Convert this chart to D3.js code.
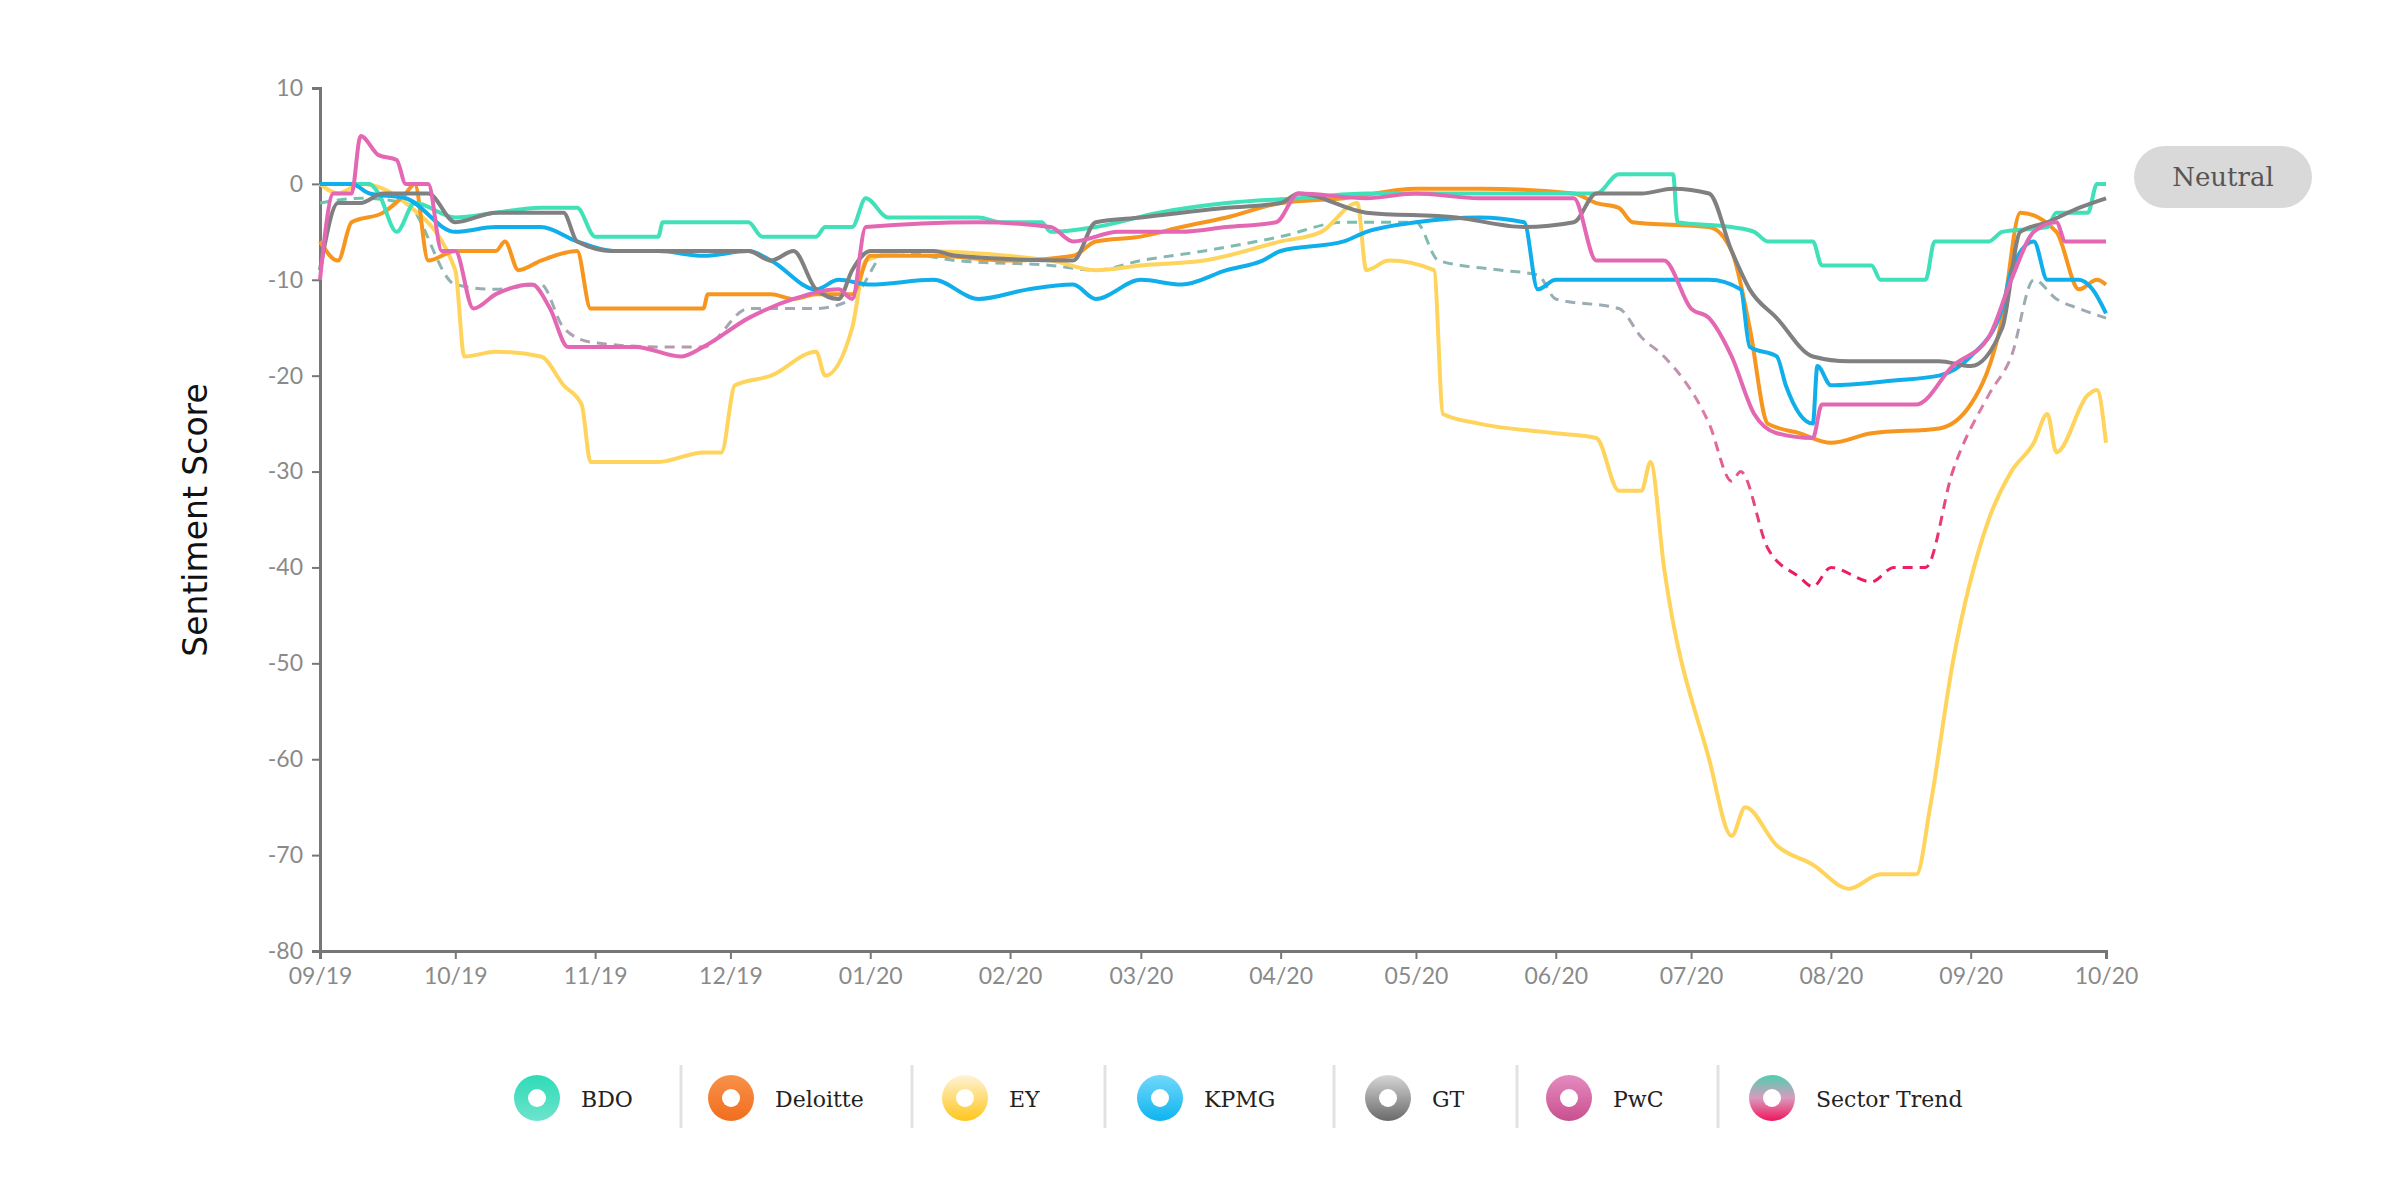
<!DOCTYPE html>
<html><head><meta charset="utf-8">
<script src="https://cdn.jsdelivr.net/npm/d3@7"></script>
<style>body{margin:0;background:#fff}svg{display:block}</style>
</head><body>
<script>
const months=["09/19","10/19","11/19","12/19","01/20","02/20","03/20","04/20","05/20","06/20","07/20","08/20","09/20","10/20"];
const yTicks=[10,0,-10,-20,-30,-40,-50,-60,-70,-80];
const seriesNames=["BDO","Deloitte","EY","KPMG","GT","PwC","Sector Trend"];
const bdo=[["2019-09-01",0],["2019-09-12",0],["2019-09-14",-1],["2019-09-18",-5],["2019-09-22",-2],["2019-10-01",-3.5],["2019-10-10",-3],["2019-10-20",-2.5],["2019-10-28",-2.5],["2019-11-01",-5.5],["2019-11-15",-5.5],["2019-11-16",-4],["2019-12-05",-4],["2019-12-08",-5.5],["2019-12-20",-5.5],["2019-12-22",-4.5],["2019-12-28",-4.5],["2019-12-31",-1.5],["2020-01-05",-3.5],["2020-01-25",-3.5],["2020-01-30",-4],["2020-02-08",-4],["2020-02-10",-5],["2020-02-20",-4.5],["2020-03-05",-3],["2020-03-20",-2],["2020-04-05",-1.5],["2020-04-20",-1],["2020-05-20",-1],["2020-06-10",-1],["2020-06-15",1],["2020-06-27",1],["2020-06-28",-4],["2020-07-10",-4.5],["2020-07-15",-5],["2020-07-18",-6],["2020-07-28",-6],["2020-07-30",-8.5],["2020-08-10",-8.5],["2020-08-12",-10],["2020-08-22",-10],["2020-08-24",-6],["2020-09-05",-6],["2020-09-08",-5],["2020-09-18",-4.5],["2020-09-20",-3],["2020-09-27",-3],["2020-09-29",0],["2020-10-01",0]];
const deloitte=[["2019-09-01",-6],["2019-09-05",-8],["2019-09-08",-4],["2019-09-15",-3],["2019-09-20",-1],["2019-09-22",0],["2019-09-25",-8],["2019-10-01",-7],["2019-10-10",-7],["2019-10-12",-6],["2019-10-15",-9],["2019-10-20",-8],["2019-10-28",-7],["2019-10-31",-13],["2019-11-10",-13],["2019-11-25",-13],["2019-11-26",-11.5],["2019-12-10",-11.5],["2019-12-15",-12],["2019-12-20",-11.5],["2019-12-28",-11.5],["2020-01-01",-7.5],["2020-01-15",-7.5],["2020-02-01",-8],["2020-02-15",-7.5],["2020-02-20",-6],["2020-03-01",-5.5],["2020-03-10",-4.5],["2020-03-20",-3.5],["2020-04-01",-2],["2020-04-15",-1.5],["2020-05-01",-0.5],["2020-05-15",-0.5],["2020-06-05",-1],["2020-06-10",-2],["2020-06-15",-2.5],["2020-06-18",-4],["2020-07-05",-4.5],["2020-07-10",-7],["2020-07-14",-15],["2020-07-18",-25],["2020-07-25",-26],["2020-08-01",-27],["2020-08-10",-26],["2020-08-25",-25.5],["2020-09-01",-23],["2020-09-08",-14],["2020-09-12",-3],["2020-09-20",-5],["2020-09-25",-11],["2020-09-29",-10],["2020-10-01",-10.5]];
const ey=[["2019-09-01",0],["2019-09-05",-1],["2019-09-10",0],["2019-09-20",-2],["2019-10-01",-9],["2019-10-03",-18],["2019-10-10",-17.5],["2019-10-20",-18],["2019-10-25",-21],["2019-10-29",-23],["2019-10-31",-29],["2019-11-15",-29],["2019-11-25",-28],["2019-11-29",-28],["2019-12-02",-21],["2019-12-10",-20],["2019-12-20",-17.5],["2019-12-22",-20],["2019-12-28",-15],["2019-12-31",-8],["2020-01-10",-7],["2020-02-10",-8],["2020-02-20",-9],["2020-03-01",-8.5],["2020-03-15",-8],["2020-04-01",-6],["2020-04-10",-5],["2020-04-18",-2],["2020-04-20",-9],["2020-04-25",-8],["2020-05-05",-9],["2020-05-07",-24],["2020-05-15",-25],["2020-06-01",-26],["2020-06-10",-26.5],["2020-06-15",-32],["2020-06-20",-32],["2020-06-22",-29],["2020-06-25",-40],["2020-07-05",-60],["2020-07-10",-68],["2020-07-13",-65],["2020-07-20",-69],["2020-07-28",-71],["2020-08-05",-73.5],["2020-08-12",-72],["2020-08-20",-72],["2020-08-23",-65],["2020-08-28",-50],["2020-09-05",-35],["2020-09-10",-30],["2020-09-15",-27],["2020-09-18",-24],["2020-09-20",-28],["2020-09-27",-22],["2020-09-29",-21.5],["2020-10-01",-27]];
const kpmg=[["2019-09-01",0],["2019-09-08",0],["2019-09-12",-1],["2019-09-20",-1.5],["2019-10-01",-5],["2019-10-10",-4.5],["2019-10-20",-4.5],["2019-10-28",-6],["2019-11-05",-7],["2019-11-15",-7],["2019-11-25",-7.5],["2019-12-05",-7],["2019-12-10",-8],["2019-12-20",-11],["2019-12-25",-10],["2020-01-01",-10.5],["2020-01-15",-10],["2020-01-25",-12],["2020-02-05",-11],["2020-02-15",-10.5],["2020-02-20",-12],["2020-03-01",-10],["2020-03-10",-10.5],["2020-03-20",-9],["2020-03-28",-8],["2020-04-01",-7],["2020-04-15",-6],["2020-04-20",-5],["2020-05-01",-4],["2020-05-15",-3.5],["2020-05-25",-4],["2020-05-28",-11],["2020-06-01",-10],["2020-07-05",-10],["2020-07-12",-11],["2020-07-14",-17],["2020-07-20",-18],["2020-07-22",-21],["2020-07-28",-25],["2020-07-29",-19],["2020-08-01",-21],["2020-08-15",-20.5],["2020-08-25",-20],["2020-09-01",-18],["2020-09-08",-13],["2020-09-10",-9],["2020-09-15",-6],["2020-09-18",-10],["2020-09-25",-10],["2020-09-28",-11],["2020-10-01",-13.5]];
const gt=[["2019-09-01",-9],["2019-09-05",-2],["2019-09-10",-2],["2019-09-15",-1],["2019-09-25",-1],["2019-10-01",-4],["2019-10-10",-3],["2019-10-25",-3],["2019-10-28",-6],["2019-11-05",-7],["2019-12-05",-7],["2019-12-10",-8],["2019-12-15",-7],["2019-12-20",-11],["2019-12-25",-12],["2019-12-28",-9],["2020-01-01",-7],["2020-01-15",-7],["2020-01-20",-7.5],["2020-02-15",-8],["2020-02-20",-4],["2020-03-01",-3.5],["2020-03-20",-2.5],["2020-04-01",-2],["2020-04-05",-1],["2020-04-20",-3],["2020-05-10",-3.5],["2020-05-25",-4.5],["2020-06-05",-4],["2020-06-10",-1],["2020-06-20",-1],["2020-06-27",-0.5],["2020-07-05",-1],["2020-07-10",-7],["2020-07-14",-11],["2020-07-20",-14],["2020-07-28",-18],["2020-08-05",-18.5],["2020-08-25",-18.5],["2020-09-01",-19],["2020-09-08",-15],["2020-09-12",-5],["2020-09-18",-4],["2020-09-25",-2.5],["2020-10-01",-1.5]];
const pwc=[["2019-09-01",-10],["2019-09-04",-1],["2019-09-08",-1],["2019-09-10",5],["2019-09-14",3],["2019-09-18",2.5],["2019-09-20",0],["2019-09-25",0],["2019-09-28",-7],["2019-10-01",-7],["2019-10-05",-13],["2019-10-10",-11.5],["2019-10-18",-10.5],["2019-10-22",-13],["2019-10-26",-17],["2019-11-10",-17],["2019-11-20",-18],["2019-11-25",-17],["2019-12-05",-14],["2019-12-15",-12],["2019-12-25",-11],["2019-12-28",-12],["2019-12-31",-4.5],["2020-01-25",-4],["2020-02-10",-4.5],["2020-02-15",-6],["2020-02-25",-5],["2020-03-10",-5],["2020-03-20",-4.5],["2020-03-31",-4],["2020-04-05",-1],["2020-04-20",-1.5],["2020-05-01",-1],["2020-05-15",-1.5],["2020-06-05",-1.5],["2020-06-10",-8],["2020-06-25",-8],["2020-07-01",-13],["2020-07-05",-14],["2020-07-10",-18],["2020-07-15",-24],["2020-07-20",-26],["2020-07-28",-26.5],["2020-07-30",-23],["2020-08-20",-23],["2020-08-28",-19],["2020-09-05",-16],["2020-09-10",-10],["2020-09-15",-5],["2020-09-20",-4],["2020-09-22",-6],["2020-10-01",-6]];
const sector=[["2019-09-01",-2],["2019-09-10",-1.5],["2019-09-20",-2],["2019-10-01",-10.5],["2019-10-10",-11],["2019-10-20",-10.5],["2019-10-25",-15],["2019-10-31",-16.5],["2019-11-15",-17],["2019-11-25",-17],["2019-12-05",-13],["2019-12-20",-13],["2019-12-28",-12],["2020-01-05",-7],["2020-01-20",-8],["2020-02-10",-8.5],["2020-02-20",-9],["2020-03-01",-8],["2020-03-15",-7],["2020-04-01",-5.5],["2020-04-15",-4],["2020-05-01",-4],["2020-05-06",-8],["2020-05-20",-9],["2020-05-28",-9.5],["2020-06-01",-12],["2020-06-15",-13],["2020-06-20",-16],["2020-06-25",-18],["2020-07-05",-25],["2020-07-10",-31],["2020-07-12",-30],["2020-07-18",-38],["2020-07-25",-41],["2020-07-28",-42],["2020-08-01",-40],["2020-08-10",-41.5],["2020-08-15",-40],["2020-08-22",-40],["2020-08-28",-30],["2020-09-05",-22],["2020-09-10",-18],["2020-09-15",-10],["2020-09-20",-12],["2020-09-25",-13],["2020-10-01",-14]];

const W=2400,H=1200,L=320,R=2106,T=88,B=951;
const parse=d3.timeParse("%Y-%m-%d");
const svg=d3.select("body").append("svg").attr("width",W).attr("height",H);
const x=d3.scaleTime().domain([parse("2019-09-01"),parse("2020-10-01")]).range([L,R]);
const y=d3.scaleLinear().domain([-80,10]).range([B,T]);
const defs=svg.append("defs");
function grad(id,stops,vert=true,user=false){const g=defs.append("linearGradient").attr("id",id).attr("x1",0).attr("y1",0).attr("x2",vert?0:1).attr("y2",vert?1:0);
 if(user){g.attr("gradientUnits","userSpaceOnUse").attr("x1",0).attr("x2",0);}
 stops.forEach(s=>g.append("stop").attr("offset",s[0]).attr("stop-color",s[1]));return g;}
const sg=grad("sectorGrad",[],true,true).attr("y1",y(-2)).attr("y2",y(-42));
[[0,"#6cc4b0"],[0.3,"#a3a8b4"],[0.55,"#e07aa6"],[1,"#ee1460"]].forEach(s=>sg.append("stop").attr("offset",s[0]).attr("stop-color",s[1]));
grad("neutralGrad",[[0,"#f0f0f0"],[1,"#9a9a9a"]],false);
const legendGrads=[["#2edbb8","#6de3cc"],["#f7924a","#f26d1d"],["#fff3d6","#ffc61a"],["#72d8fa","#0eb4f0"],["#d6d6d6","#6a6a6a"],["#e38cc0","#c94f8f"],["#4ecfb0","#d99abd","#f0145c"]];
legendGrads.forEach((c,i)=>{grad("lg"+i,c.map((col,j)=>[j/(c.length-1),col]));});

svg.append("line").attr("x1",L).attr("x2",2134).attr("y1",y(0)-3).attr("y2",y(0)-3).attr("stroke","url(#neutralGrad)").attr("stroke-width",3).attr("stroke-dasharray","12,8");
svg.append("rect").attr("x",2134).attr("y",146).attr("width",178).attr("height",62).attr("rx",31).attr("fill","#d9d9d9");
svg.append("text").attr("x",2223).attr("y",186).attr("text-anchor","middle").attr("font-family","DejaVu Serif").attr("font-size",26).attr("fill","#555").text("Neutral");

const fmt=d=>String(d);
const ya=svg.append("g").attr("transform",`translate(${L},0)`).call(d3.axisLeft(y).tickValues(yTicks).tickSize(8).tickFormat(fmt));
const xa=svg.append("g").attr("transform",`translate(0,${B})`).call(d3.axisBottom(x).tickValues(months.map(m=>d3.timeParse("%m/%y")(m))).tickSize(8).tickFormat((d,i)=>months[i]));
[ya,xa].forEach(a=>{a.select(".domain").attr("stroke","#777").attr("stroke-width",3);a.selectAll(".tick line").attr("stroke","#777").attr("stroke-width",2);
 a.selectAll("text").attr("font-family","Lato").attr("font-size",23).attr("fill","#8a8a8a");});
ya.selectAll("text").attr("dx",-6);
xa.selectAll("text").attr("dy",22);
svg.append("text").attr("transform","translate(207,520) rotate(-90)").attr("text-anchor","middle").attr("font-family","DejaVu Sans").attr("font-size",33).attr("fill","#111").text("Sentiment Score");

const line=d3.line().x(d=>x(parse(d[0]))).y(d=>y(d[1])).curve(d3.curveMonotoneX);
const series=[[sector,"url(#sectorGrad)",true],[ey,"#ffd45c"],[deloitte,"#f7961e"],[bdo,"#40e0b8"],[kpmg,"#10aeea"],[gt,"#808080"],[pwc,"#e467b3"]];
series.forEach(s=>svg.append("path").datum(s[0]).attr("d",line).attr("fill","none").attr("stroke",s[1]).attr("stroke-width",s[2]?3:4).attr("stroke-dasharray",s[2]?"10,7":null).attr("stroke-linejoin","round"));

const lx=[537,731,965,1160,1388,1569,1772], sep=[681,912,1105,1334,1517,1718];
sep.forEach(s=>svg.append("line").attr("x1",s).attr("x2",s).attr("y1",1065).attr("y2",1128).attr("stroke","#e2e2e2").attr("stroke-width",3));
seriesNames.forEach((n,i)=>{
 svg.append("circle").attr("cx",lx[i]).attr("cy",1098).attr("r",23).attr("fill","url(#lg"+i+")");
 svg.append("circle").attr("cx",lx[i]).attr("cy",1098).attr("r",9).attr("fill","#fff");
 svg.append("text").attr("x",lx[i]+44).attr("y",1107).attr("font-family","DejaVu Serif").attr("font-size",22).attr("fill","#222").text(n);
});
</script>
</body></html>
